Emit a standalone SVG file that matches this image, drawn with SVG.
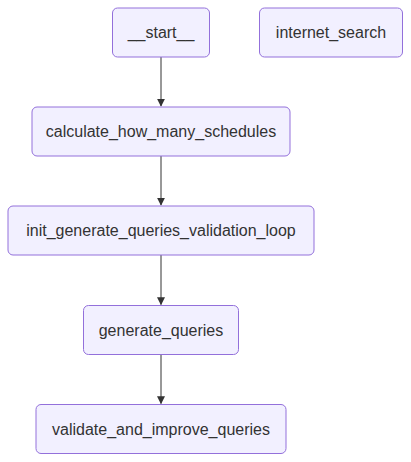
<svg xmlns="http://www.w3.org/2000/svg" width="411" height="462" viewBox="0 0 411 462">
<style>
.node rect{fill:#F2F0FF;stroke:#9370DB;stroke-width:1}
.node text{font-family:"Trebuchet MS","Liberation Sans","DejaVu Sans",sans-serif;font-size:16px;fill:#333;text-anchor:middle;dominant-baseline:central}
.edge{stroke:#333;stroke-width:1;fill:none}
</style>
<defs>
<marker id="arrow" viewBox="0 0 10 10" refX="9" refY="5" markerWidth="8" markerHeight="8" markerUnits="userSpaceOnUse" orient="auto">
<path d="M0,0 L10,5 L0,10 z" fill="#333"/>
</marker>
</defs>
<rect width="411" height="462" fill="#fff"/>
<g id="edges">
<path class="edge" d="M161,57 L161,106" marker-end="url(#arrow)"/>
<path class="edge" d="M161,156 L161,205" marker-end="url(#arrow)"/>
<path class="edge" d="M161,255 L161,304.5" marker-end="url(#arrow)"/>
<path class="edge" d="M161,354.5 L161,403.5" marker-end="url(#arrow)"/>
</g>
<g id="start" class="node"><rect x="112.5" y="8" width="97" height="49" rx="5"/><text x="161" y="32.5">__start__</text></g>
<g id="internet_search" class="node"><rect x="259.5" y="8" width="143" height="49" rx="5"/><text x="331" y="32.5">internet_search</text></g>
<g id="calculate_how_many_schedules" class="node"><rect x="32" y="107" width="258" height="49" rx="5"/><text x="161" y="131.5">calculate_how_many_schedules</text></g>
<g id="init_generate_queries_validation_loop" class="node"><rect x="8" y="206" width="306" height="49" rx="5"/><text x="161" y="230.5">init_generate_queries_validation_loop</text></g>
<g id="generate_queries" class="node"><rect x="83.5" y="305.5" width="155" height="49" rx="5"/><text x="161" y="330">generate_queries</text></g>
<g id="validate_and_improve_queries" class="node"><rect x="36" y="404.5" width="250" height="49" rx="5"/><text x="161" y="429">validate_and_improve_queries</text></g>
</svg>
